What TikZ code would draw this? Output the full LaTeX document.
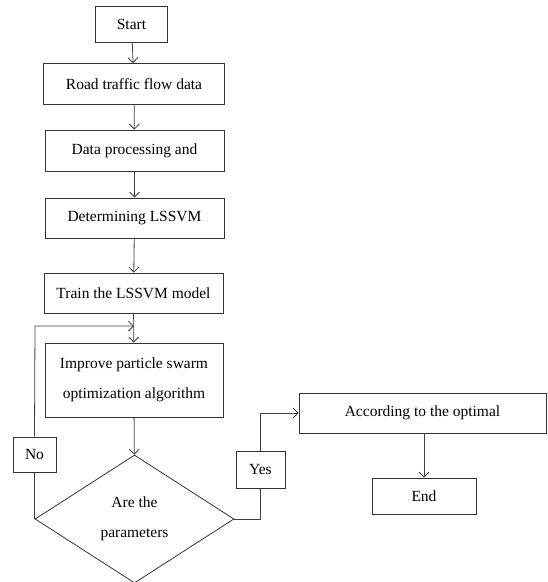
\documentclass[tikz,border=0pt]{standalone}
\usepackage{fontspec}
\setmainfont{Liberation Serif}
\usetikzlibrary{arrows.meta,shapes.geometric}
\begin{document}
\begin{tikzpicture}[x=1pt,y=-1pt,
  line width=0.8pt,
  every node/.style={draw=black!80, line width=0.8pt, inner sep=0pt, font=\fontsize{15.5}{30.5}\selectfont, align=center},
  box/.style={rectangle},
  flow/.style={draw=black!75, line width=0.8pt, -{Straight Barb[length=5pt,width=10pt]}},
  line/.style={draw=black!75, line width=0.8pt}]
\useasboundingbox (0,0) rectangle (548,582);
\node[box, minimum width=72pt, minimum height=36pt] (start) at (131.5,24) {Start};
\node[box, minimum width=181pt, minimum height=41pt] (road) at (134,84) {Road traffic flow data};
\node[box, minimum width=179pt, minimum height=41pt] (proc) at (134.5,150.5) {Data processing and};
\node[box, minimum width=179pt, minimum height=40pt] (det) at (134.5,218) {Determining LSSVM};
\node[box, minimum width=179pt, minimum height=40pt] (train) at (133.5,293) {Train the LSSVM model};
\node[box, minimum width=178pt, minimum height=74pt] (pso) at (134,380) {Improve particle swarm\\optimization algorithm};
\node[diamond, minimum width=199pt, minimum height=128pt] (dec) at (134.5,519) {Are the\\parameters};
\node[box, minimum width=43pt, minimum height=35pt] (no) at (34.5,454.5) {No};
\node[box, minimum width=49pt, minimum height=37pt] (yes) at (260.5,469.5) {Yes};
\node[box, minimum width=247pt, minimum height=40pt] (opt) at (422.5,413) {According to the optimal};
\node[box, minimum width=104pt, minimum height=36pt] (end) at (424,496) {End};
\coordinate (loop) at (35,326);
\coordinate (join) at (134,326);
\draw[flow] (start) -- (road);
\draw[flow] (road) -- (proc);
\draw[flow] (proc) -- (det);
\draw[flow] (det) -- (train);
\draw[flow] (train) -- (pso);
\draw[flow] (pso) -- (dec);
\draw[line] (dec.west) -- (no.south);
\draw[flow] (no.north) -- (loop) -- (join);
\draw[line] (dec.east) -| (yes.south);
\draw[flow] (yes.north) |- (opt.west);
\draw[flow] (opt.south -| end.north) -- (end.north);
\end{tikzpicture}
\end{document}
